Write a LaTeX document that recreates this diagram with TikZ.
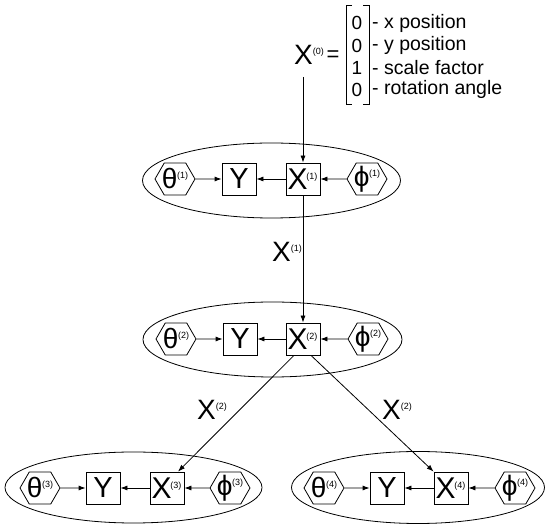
\documentclass[tikz,border=0pt]{standalone}
\usepackage{fontspec}
\setmainfont{Liberation Sans}
\usetikzlibrary{arrows.meta,shapes.symbols,shapes.geometric,calc}
\newcommand{\supp}[1]{\raisebox{10pt}{\fontsize{9}{9}\selectfont(#1)}}
\newcommand{\bigXs}[1]{{\fontsize{28}{28}\selectfont X}\supp{#1}}
\newcommand{\boxX}[1]{\makebox[0pt]{\kern-1pt{\fontsize{30}{30}\selectfont X}\kern-1.5pt\supp{#1}}}
\newcommand{\boxY}{\makebox[0pt]{\fontsize{29}{29}\selectfont Y}}
\newcommand{\hexT}[1]{\makebox[0pt]{{\fontsize{28}{28}\selectfont θ}\kern-0.5pt\supp{#1}}}
\newcommand{\hexP}[1]{\makebox[0pt]{{\fontsize{28}{28}\selectfont ϕ}\kern-0.5pt\supp{#1}}}
\tikzset{
  boxnode/.style={draw, line width=0.8pt, minimum width=34pt, minimum height=32pt, inner sep=0pt},
  hexnode/.style={draw, line width=0.8pt, shape=signal, signal to=east and west, signal pointer angle=120,
                  minimum width=40pt, minimum height=32pt, inner sep=0pt},
  ellnode/.style={draw, line width=0.8pt, ellipse, inner sep=0pt},
  arr/.style={line width=0.8pt, -{Latex[length=7pt,width=5pt]}},
  rowtext/.style={anchor=west, inner sep=0pt, font=\fontsize{19.5}{19.5}\selectfont},
  digit/.style={inner sep=0pt, font=\fontsize{19}{19}\selectfont},
}
\begin{document}
\begin{tikzpicture}[x=1pt,y=-1pt]
\useasboundingbox (0,0) rectangle (547,526);
% ellipses
\node[ellnode, minimum width=258pt, minimum height=75pt] (e1) at (271.5,180.5) {};
\node[ellnode, minimum width=259pt, minimum height=75pt] (e2) at (272.5,339.5) {};
\node[ellnode, minimum width=257pt, minimum height=71pt] (e3) at (133.5,487.5) {};
\node[ellnode, minimum width=253pt, minimum height=72pt] (e4) at (418,487.5) {};
% row 1
\node[hexnode] (t1) at (175,179) {\hexT{1}};
\node[boxnode] (Y1) at (239,179) {\boxY};
\node[boxnode] (X1) at (303,179) {\boxX{1}};
\node[hexnode] (p1) at (367,179) {\hexP{1}};
% row 2
\node[hexnode] (t2) at (176,339) {\hexT{2}};
\node[boxnode] (Y2) at (240,339) {\boxY};
\node[boxnode] (X2) at (303,339) {\boxX{2}};
\node[hexnode] (p2) at (368,339) {\hexP{2}};
% row 3
\node[hexnode] (t3) at (40,488) {\hexT{3}};
\node[boxnode] (Y3) at (103,488) {\boxY};
\node[boxnode] (X3) at (167,488) {\boxX{3}};
\node[hexnode] (p3) at (230,488) {\hexP{3}};
% row 4
\node[hexnode] (t4) at (324,488) {\hexT{4}};
\node[boxnode] (Y4) at (387,488) {\boxY};
\node[boxnode] (X4) at (451,488) {\boxX{4}};
\node[hexnode] (p4) at (515,488) {\hexP{4}};
% arrows inside ellipses
\foreach \i in {1,2,3,4}{
  \draw[arr] (t\i) -- (Y\i);
  \draw[arr] (X\i) -- (Y\i);
  \draw[arr] (p\i) -- (X\i);
}
% top vector
\node[anchor=base, inner sep=0pt] (X0) at (309,65) {\bigXs{0}};
\node[inner sep=0pt, font=\fontsize{22}{22}\selectfont] (eq) at (333,56) {=};
\node[digit] (d1) at (357,23) {0};
\node[digit] (d2) at (357,45.5) {0};
\node[digit] (d3) at (357,67.5) {1};
\node[digit] (d4) at (357,89.5) {0};
\draw[line width=0.8pt] (352,5) -- (346,5) -- (346,104) -- (352,104);
\draw[line width=0.8pt] (363,5) -- (369,5) -- (369,104) -- (363,104);
\node[rowtext] (r1) at (372,23) {- x position};
\node[rowtext] (r2) at (372,45.5) {- y position};
\node[rowtext] (r3) at (372,67.5) {- scale factor};
\node[rowtext] (r4) at (372,89.5) {- rotation angle};
\coordinate (x0s) at (303,77);
\draw[arr] (x0s) -- (X1.north);
% level links
\draw[arr] (X1.south) -- (X2.north);
\node[anchor=base, inner sep=0pt] (L1) at (287,262) {\bigXs{1}};
\draw[arr] ($(X2.south)+(-9,0)$) -- ($(X3.north)+(11,0)$);
\draw[arr] ($(X2.south)+(8,0)$) -- (X4.north west);
\node[anchor=base, inner sep=0pt] (L2) at (212,420) {\bigXs{2}};
\node[anchor=base, inner sep=0pt] (L3) at (397,420) {\bigXs{2}};
\end{tikzpicture}
\end{document}
